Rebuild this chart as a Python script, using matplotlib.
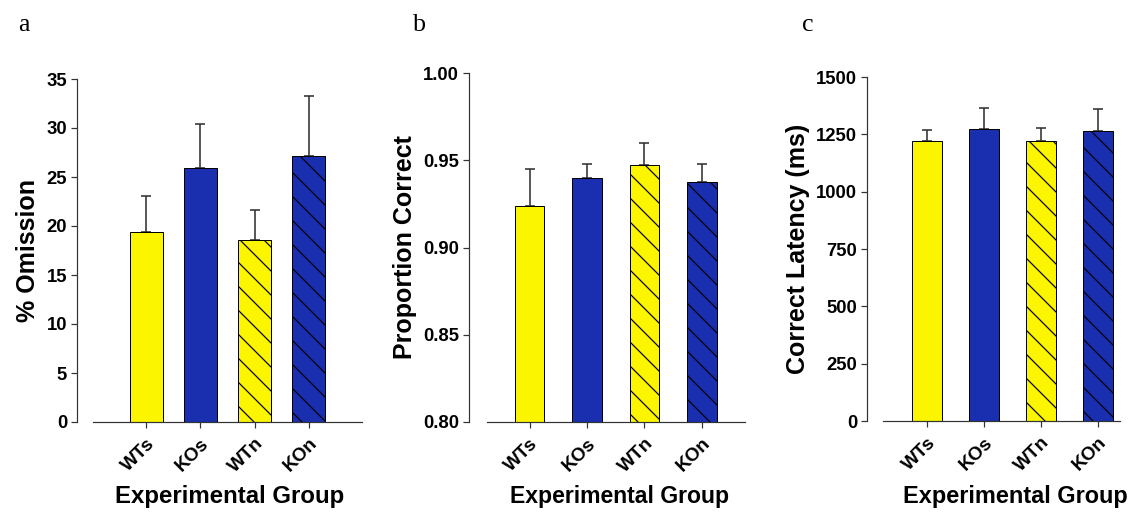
import numpy as np
import matplotlib
matplotlib.use('Agg')
import matplotlib.pyplot as plt

plt.rcParams['font.family'] = ['Liberation Sans', 'DejaVu Sans']
plt.rcParams['hatch.linewidth'] = 1.2

# Datos
grupos = ['WTs', 'KOs', 'WTn', 'KOn']
omision = [19.4, 25.9, 18.6, 27.1]
omision_err = [3.7, 4.5, 3.0, 6.2]
prop_correcta = [0.924, 0.940, 0.947, 0.9375]
prop_correcta_err = [0.021, 0.008, 0.013, 0.0105]
latencia = [1222, 1273, 1221, 1266]
latencia_err = [48, 92, 56, 94]

amarillo = '#fbf500'
azul = '#1a2eb0'
colores = [amarillo, azul, amarillo, azul]
tramas = ['', '', '\\', '\\']

# dpi 72: 1 punto = 1 pixel (la trama queda a ~12 px)
W, H = 1133, 513
fig = plt.figure(figsize=(W / 72, H / 72), dpi=72)


def panel(px_left, px_right, px_top, px_bottom, xlim, ancho, valores, errores,
          ylim, yticks, yticklabels, ylabel, letra, letra_x, offset,
          xlabel_cx, xlabel_size=24):
    ax = fig.add_axes([px_left / W, 1 - px_bottom / H,
                       (px_right - px_left) / W, (px_bottom - px_top) / H])
    ax.spines['top'].set_visible(False)
    ax.spines['right'].set_visible(False)
    ax.spines['left'].set_position(('outward', offset))
    ax.spines['left'].set_color('#333333')
    ax.spines['bottom'].set_color('#333333')
    ax.spines['left'].set_linewidth(1.2)
    ax.spines['bottom'].set_linewidth(1.2)

    x = np.arange(len(grupos))
    for i in range(len(grupos)):
        ax.bar(x[i], valores[i], width=ancho, color=colores[i], edgecolor='black',
               linewidth=1.0, hatch=tramas[i], zorder=2)
    ax.errorbar(x, valores, yerr=[np.zeros(len(errores)), errores], fmt='none',
                ecolor='#333333', elinewidth=1.6, capsize=5, capthick=1.6, zorder=1)
    ax.set_xlim(*xlim)
    ax.set_ylim(*ylim)
    ax.tick_params(direction='out', length=6, width=1.2, colors='#333333', labelcolor='black')
    ax.tick_params(axis='x', pad=7)
    ax.tick_params(axis='y', pad=4)
    ax.set_yticks(yticks)
    ax.set_yticklabels(yticklabels, fontsize=18.5, fontweight='bold')
    ax.set_xticks(x)
    ax.set_xticklabels(grupos, rotation=45, ha='right', rotation_mode='anchor',
                       fontsize=19, fontweight='bold')
    ax.set_ylabel(ylabel, fontsize=25, fontweight='bold', labelpad=6)
    ax.set_xlabel('Experimental Group', fontsize=xlabel_size, fontweight='bold')
    ax.xaxis.set_label_coords((xlabel_cx - px_left) / (px_right - px_left),
                              (px_bottom - 485) / (px_bottom - px_top))
    fig.text(letra_x / W, 1 - 25 / H, letra, fontsize=26, family='Liberation Serif',
             ha='left', va='center')
    return ax


panel(93, 362, 79, 422, (-0.99, 3.99), 0.61, omision, omision_err,
      (0, 35), np.arange(0, 36, 5), [str(v) for v in range(0, 36, 5)],
      '% Omission', 'a', 18, 16, 230)

panel(487, 745, 73, 422, (-0.74, 3.75), 0.51, prop_correcta, prop_correcta_err,
      (0.80, 1.00), [0.80, 0.85, 0.90, 0.95, 1.00],
      ['0.80', '0.85', '0.90', '0.95', '1.00'],
      'Proportion Correct', 'b', 413, 18, 620, 23)

panel(883, 1120, 77, 421, (-0.77, 3.39), 0.53, latencia, latencia_err,
      (0, 1500), np.arange(0, 1501, 250), [str(v) for v in range(0, 1501, 250)],
      'Correct Latency (ms)', 'c', 802, 16, 1015, 23.5)

fig.savefig('out.png', dpi=72)
